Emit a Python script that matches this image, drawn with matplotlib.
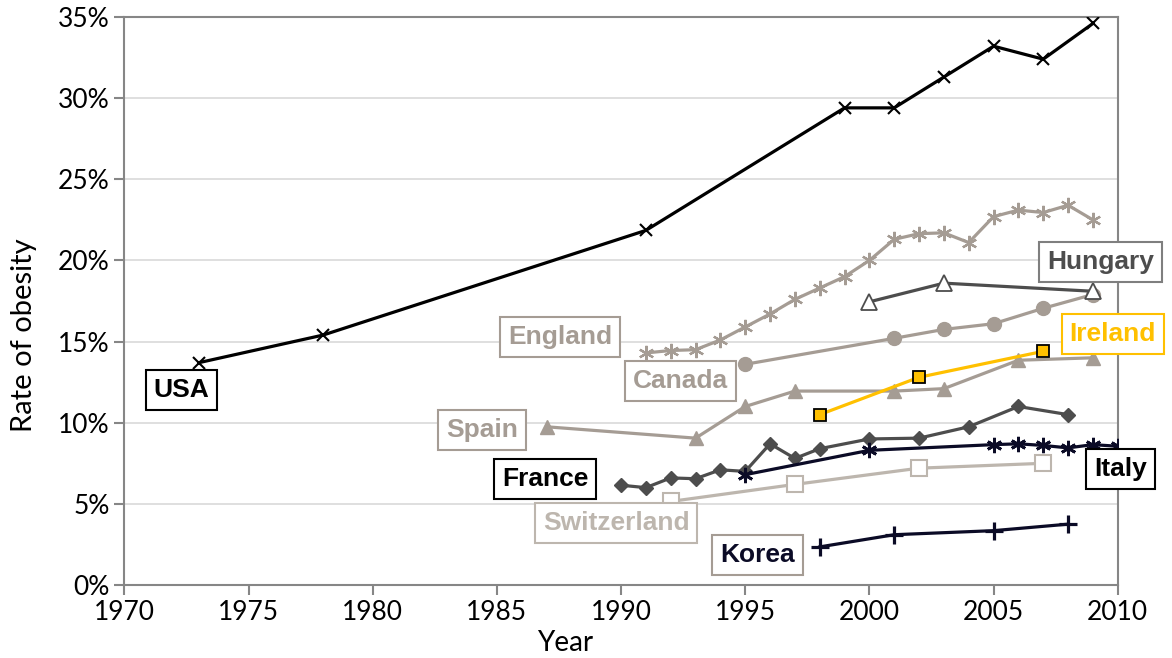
import matplotlib
matplotlib.use("Agg")
import matplotlib.pyplot as plt
from matplotlib.ticker import FuncFormatter

# Daten (Jahr, Adipositasrate in %)
usa_years = [1973, 1978, 1991, 1999, 2001, 2003, 2005, 2007, 2009]
usa_vals = [13.7, 15.4, 21.85, 29.4, 29.4, 31.3, 33.2, 32.4, 34.6]

england_years = list(range(1991, 2010))
england_vals = [14.3, 14.45, 14.5, 15.1, 15.9, 16.7, 17.6, 18.3, 19.0, 20.0,
                21.3, 21.65, 21.7, 21.1, 22.7, 23.1, 22.95, 23.4, 22.5]

canada_years = [1995, 2001, 2003, 2005, 2007, 2009]
canada_vals = [13.6, 15.2, 15.75, 16.1, 17.05, 17.9]

hungary_years = [2000, 2003, 2009]
hungary_vals = [17.45, 18.6, 18.1]

ireland_years = [1998, 2002, 2007]
ireland_vals = [10.5, 12.8, 14.4]

spain_years = [1987, 1993, 1995, 1997, 2001, 2003, 2006, 2009]
spain_vals = [9.75, 9.05, 11.0, 11.95, 11.95, 12.1, 13.85, 14.0]

france_years = [1990, 1991, 1992, 1993, 1994, 1995, 1996, 1997, 1998, 2000, 2002, 2004, 2006, 2008]
france_vals = [6.15, 6.0, 6.6, 6.55, 7.1, 7.0, 8.7, 7.8, 8.4, 9.0, 9.05, 9.75, 11.0, 10.5]

italy_years = [1995, 2000, 2005, 2006, 2007, 2008, 2009, 2010]
italy_vals = [6.8, 8.3, 8.65, 8.7, 8.6, 8.45, 8.65, 8.55]

swiss_years = [1992, 1997, 2002, 2007]
swiss_vals = [5.15, 6.2, 7.2, 7.5]

korea_years = [1998, 2001, 2005, 2008]
korea_vals = [2.35, 3.1, 3.35, 3.75]

# Farben
BLACK = "#000000"
WARM = "#a59c94"
DARK = "#4d4d4d"
LIGHT = "#bdb6ae"
NAVY = "#0b0b26"
GOLD = "#ffc000"
AXIS = "#868686"

fig = plt.figure(figsize=(11.72, 6.58), dpi=100)
ax = fig.add_axes([0.1061, 0.1109, 0.8476, 0.8633])

lw = 2.3
ax.plot(usa_years, usa_vals, color=BLACK, lw=lw, marker="x", ms=9, mew=1.5, zorder=5)
ax.plot(england_years, england_vals, color=WARM, lw=lw, marker=(6, 2, 0), ms=11, mew=1.6, zorder=4)
ax.plot(canada_years, canada_vals, color=WARM, lw=lw, marker="o", ms=10, zorder=4)
ax.plot(hungary_years, hungary_vals, color=DARK, lw=lw, marker="^", ms=12, mfc="white",
        mec=DARK, mew=1.3, zorder=5)
ax.plot(spain_years, spain_vals, color=WARM, lw=lw, marker="^", ms=10, zorder=4)
ax.plot(ireland_years, ireland_vals, color=GOLD, lw=lw, marker="s", ms=9, mfc=GOLD,
        mec=BLACK, mew=1.3, zorder=5)
ax.plot(france_years, france_vals, color=DARK, lw=lw, marker="D", ms=7, zorder=4)
ax.plot(italy_years, italy_vals, color=NAVY, lw=lw, marker=(6, 2, 0), ms=11, mew=2.0, zorder=5)
ax.plot(swiss_years, swiss_vals, color=LIGHT, lw=lw, marker="s", ms=11, mfc="white",
        mec=LIGHT, mew=1.5, zorder=3)
ax.plot(korea_years, korea_vals, color=NAVY, lw=lw, marker="+", ms=13, mew=2.3, zorder=5)

# Beschriftungen mit Rahmen
labels = [
    ("USA", 1972.3, 12.0, BLACK, BLACK),
    ("England", 1987.55, 15.3, WARM, WARM),
    ("Canada", 1992.4, 12.55, WARM, WARM),
    ("Spain", 1984.4, 9.55, WARM, WARM),
    ("France", 1986.95, 6.55, BLACK, BLACK),
    ("Switzerland", 1989.8, 3.8, LIGHT, LIGHT),
    ("Korea", 1995.5, 1.85, NAVY, WARM),
    ("Hungary", 2009.3, 19.9, DARK, "#7f7f7f"),
    ("Ireland", 2009.8, 15.45, GOLD, GOLD),
    ("Italy", 2010.1, 7.15, BLACK, BLACK),
]
for txt, x, y, col, ec in labels:
    ax.text(x, y, txt, color=col, fontsize=19, fontweight="bold",
            family="Liberation Sans", ha="center", va="center", zorder=10,
            bbox=dict(boxstyle="square,pad=0.3", fc="white", ec=ec, lw=1.5))

ax.set_xlim(1970, 2010)
ax.set_ylim(0, 35)
ax.set_xticks(range(1970, 2011, 5))
ax.set_yticks(range(0, 36, 5))
ax.yaxis.set_major_formatter(FuncFormatter(lambda v, p: f"{v:.0f}%"))
ax.grid(axis="y", color="#d9d9d9", lw=1.2)
ax.set_axisbelow(True)

for s in ax.spines.values():
    s.set_color(AXIS)
    s.set_linewidth(1.5)
ax.tick_params(colors=AXIS, length=7, width=1.5, labelcolor="black", labelsize=19)
ax.tick_params(axis="x", pad=4)
for lab in ax.get_xticklabels() + ax.get_yticklabels():
    lab.set_family("Lato")

ax.set_xlabel("Year", fontsize=20, family="Lato")
ax.set_ylabel("Rate of obesity", fontsize=21, family="Lato")
ax.xaxis.set_label_coords(0.444, -0.08)
ax.yaxis.set_label_coords(-0.088, 0.44)

plt.savefig("out.png", dpi=100)
